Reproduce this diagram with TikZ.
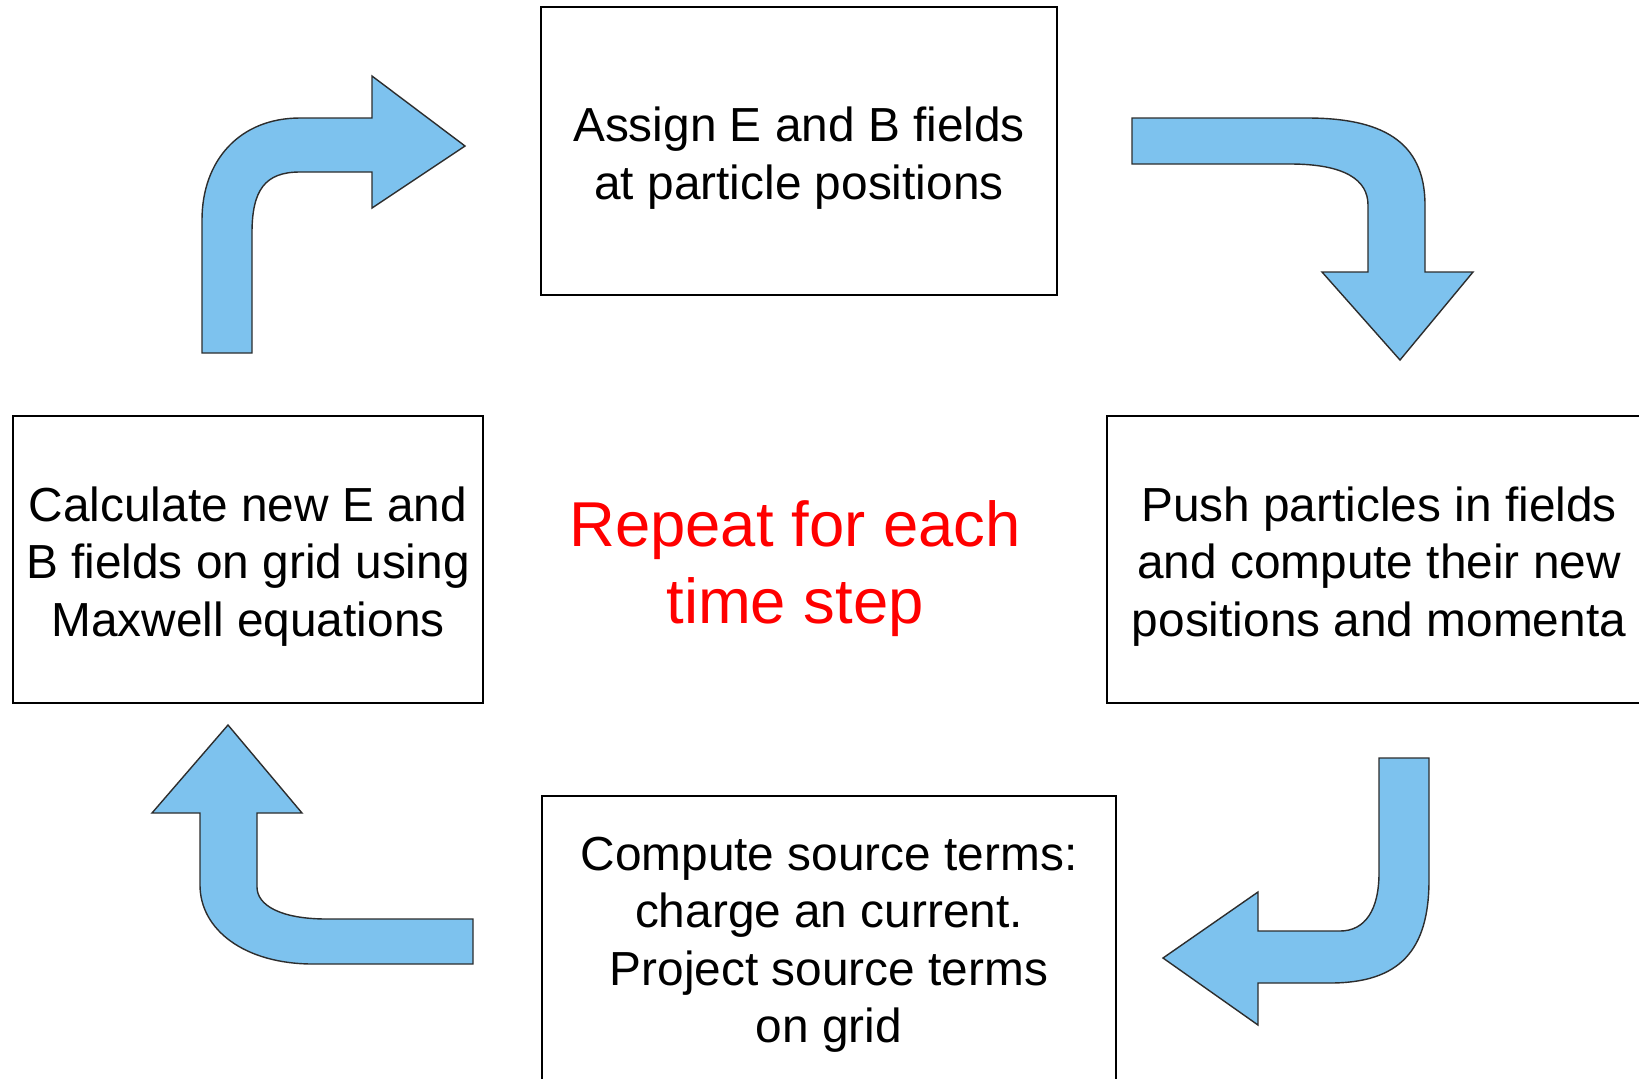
\documentclass[tikz,border=0pt]{standalone}
\usepackage{fontspec}
\setmainfont{Liberation Sans}
\definecolor{arrowfill}{RGB}{125,194,238}
\definecolor{arrowline}{RGB}{45,45,45}
\begin{document}
\begin{tikzpicture}[x=0.5pt,y=-0.5pt,
  stepbox/.style={draw=black, line width=1.3pt, fill=white, inner sep=0pt},
  steptext/.style={inner sep=0pt, align=center, font=\fontsize{23.9pt}{28.75pt}\selectfont},
  blockarrow/.style={fill=arrowfill, draw=arrowline, line width=0.7pt, line join=miter},
  repeattext/.style={text=red, align=center, inner sep=0pt, font=\fontsize{31.7pt}{38.5pt}\selectfont}]
\useasboundingbox (0,0) rectangle (1639,1078);
\clip (0,0) rectangle (1639,1078);
\fill[white] (0,0) rectangle (1639,1078);

% boxes
\node[stepbox, minimum width=258pt, minimum height=144pt] (assign) at (799,151) {};
\node[steptext] (assigntext) at ([yshift=-3.5pt]assign.center)
  {Assign E and B fields\\at particle positions};
\node[stepbox, minimum width=235pt, minimum height=143.5pt] (calc) at (248,559.5) {};
\node[steptext] (calctext) at ([yshift=-3.5pt]calc.center)
  {Calculate new E and\\B fields on grid using\\Maxwell equations};
\node[stepbox, minimum width=268pt, minimum height=143.5pt] (push) at (1375,559.5) {};
\node[steptext] (pushtext) at ([xshift=2pt,yshift=-3.5pt]push.center)
  {Push particles in fields\\and compute their new\\positions and momenta};
\node[stepbox, minimum width=287pt, minimum height=143pt] (source) at (829,939) {};
\node[steptext] (sourcetext) at ([yshift=-3pt]source.center)
  {Compute source terms:\\charge an current.\\Project source terms\\on grid};

\node[repeattext] (repeat) at (795,569) {Repeat for each\\time step};

% arrow 1: up then right (calc -> assign)
\draw[blockarrow] (202,353) -- (202,220) .. controls (202,160) and (240,118) .. (300,118)
  -- (372,118) -- (372,76) -- (465,146) -- (372,208) -- (372,172) -- (300,172)
  .. controls (265,172) and (252,190) .. (252,233) -- (252,353) -- cycle;

% arrow 2: right then down (assign -> push)
\draw[blockarrow] (1132,118) -- (1307,118) .. controls (1380,118) and (1425,140) .. (1425,205)
  -- (1425,272) -- (1473,272) -- (1400,360) -- (1322,272) -- (1368,272) -- (1368,205)
  .. controls (1368,180) and (1345,164) .. (1290,164) -- (1132,164) -- cycle;

% arrow 3: down then left (push -> source)
\draw[blockarrow] (1379,758) -- (1429,758) -- (1429,880) .. controls (1429,950) and (1400,983) .. (1330,983)
  -- (1258,983) -- (1258,1025) -- (1163,958) -- (1258,892) -- (1258,931) -- (1340,931)
  .. controls (1365,931) and (1379,910) .. (1379,873) -- cycle;

% arrow 4: left then up (source -> calc)
\draw[blockarrow] (473,919) -- (473,964) -- (313,964) .. controls (245,964) and (200,930) .. (200,885)
  -- (200,813) -- (152,813) -- (228,725) -- (302,813) -- (257,813) -- (257,887)
  .. controls (257,905) and (280,919) .. (327,919) -- cycle;
\end{tikzpicture}
\end{document}
